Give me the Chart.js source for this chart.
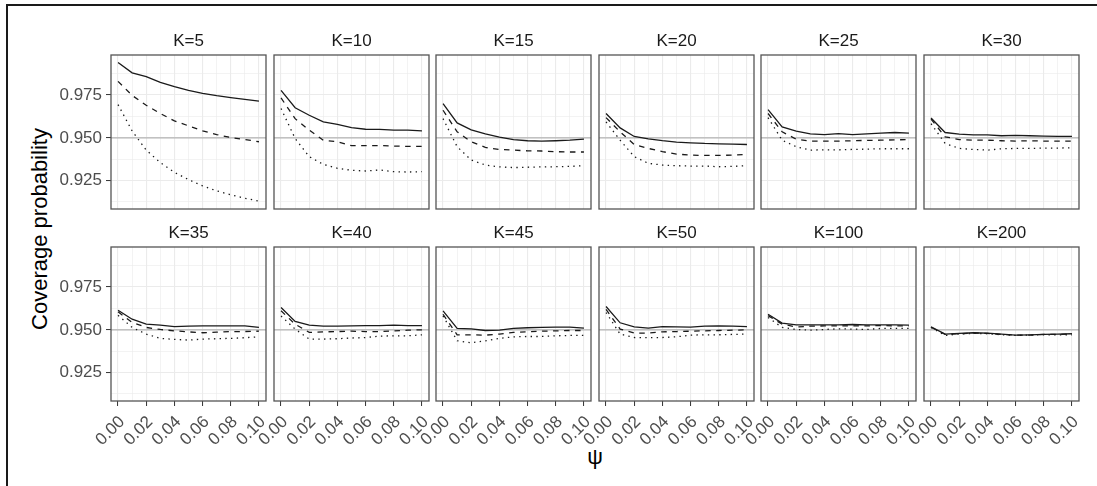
<!DOCTYPE html>
<html>
<head>
<meta charset="utf-8">
<script src="https://cdn.jsdelivr.net/npm/chart.js@4.4.1/dist/chart.umd.min.js"></script>
<style>
  body { margin: 0; background: #fff; width: 1097px; height: 486px; overflow: hidden; position: relative;
         font-family: "Liberation Sans", Arial, sans-serif; }
  #frame { position: absolute; left: 6px; top: 4px; width: 1100px; height: 490px;
           border-top: 2px solid #1a1a1a; border-left: 2px solid #1a1a1a; }
  canvas { position: absolute; }
  .ttl { position: absolute; color: #000; font-size: 22px; line-height: 1; white-space: nowrap; }
  #ylab { left: 40px; top: 229px; transform: translate(-50%, -50%) rotate(-90deg); }
  #xlab { left: 595px; top: 457px; transform: translate(-50%, -50%); }
</style>
</head>
<body>
<div id="frame"></div>
<div class="ttl" id="ylab">Coverage probability</div>
<div class="ttl" id="xlab">ψ</div>
<script>
// psi (x) values shared by every panel
const psi = [0.00, 0.01, 0.02, 0.03, 0.04, 0.05, 0.06, 0.07, 0.08, 0.09, 0.10];
const kLabels = ["K=5", "K=10", "K=15", "K=20", "K=25", "K=30",
                 "K=35", "K=40", "K=45", "K=50", "K=100", "K=200"];

// coverage, one array per panel (solid / dashed / dotted line)
const solidCov = [
  [0.9940, 0.9880, 0.9857, 0.9824, 0.9799, 0.9777, 0.9760, 0.9746, 0.9735, 0.9725, 0.9715],
  [0.9777, 0.9676, 0.9632, 0.9593, 0.9578, 0.9560, 0.9550, 0.9549, 0.9545, 0.9545, 0.9541],
  [0.9700, 0.9587, 0.9547, 0.9523, 0.9504, 0.9490, 0.9483, 0.9481, 0.9483, 0.9486, 0.9492],
  [0.9642, 0.9558, 0.9508, 0.9494, 0.9483, 0.9475, 0.9471, 0.9467, 0.9465, 0.9463, 0.9461],
  [0.9665, 0.9564, 0.9539, 0.9523, 0.9519, 0.9525, 0.9519, 0.9523, 0.9527, 0.9531, 0.9527],
  [0.9616, 0.9531, 0.9521, 0.9517, 0.9517, 0.9512, 0.9514, 0.9512, 0.9510, 0.9508, 0.9508],
  [0.9614, 0.9562, 0.9533, 0.9527, 0.9519, 0.9521, 0.9523, 0.9523, 0.9523, 0.9523, 0.9514],
  [0.9630, 0.9549, 0.9527, 0.9521, 0.9521, 0.9523, 0.9525, 0.9525, 0.9527, 0.9525, 0.9525],
  [0.9611, 0.9508, 0.9506, 0.9496, 0.9498, 0.9508, 0.9512, 0.9514, 0.9516, 0.9516, 0.9510],
  [0.9636, 0.9541, 0.9517, 0.9510, 0.9519, 0.9517, 0.9516, 0.9521, 0.9523, 0.9521, 0.9519],
  [0.9591, 0.9539, 0.9529, 0.9529, 0.9529, 0.9529, 0.9531, 0.9529, 0.9529, 0.9529, 0.9527],
  [0.9517, 0.9475, 0.9479, 0.9483, 0.9481, 0.9475, 0.9469, 0.9471, 0.9473, 0.9475, 0.9477]
];
const dashedCov = [
  [0.9830, 0.9748, 0.9690, 0.9642, 0.9599, 0.9570, 0.9541, 0.9519, 0.9502, 0.9490, 0.9477],
  [0.9733, 0.9612, 0.9545, 0.9486, 0.9477, 0.9454, 0.9454, 0.9455, 0.9452, 0.9450, 0.9450],
  [0.9661, 0.9535, 0.9477, 0.9444, 0.9432, 0.9428, 0.9424, 0.9423, 0.9419, 0.9417, 0.9417],
  [0.9618, 0.9535, 0.9461, 0.9438, 0.9419, 0.9405, 0.9399, 0.9397, 0.9397, 0.9399, 0.9403],
  [0.9642, 0.9535, 0.9492, 0.9481, 0.9481, 0.9481, 0.9483, 0.9485, 0.9486, 0.9488, 0.9490],
  [0.9609, 0.9506, 0.9490, 0.9486, 0.9486, 0.9483, 0.9481, 0.9483, 0.9481, 0.9481, 0.9481],
  [0.9605, 0.9543, 0.9514, 0.9502, 0.9494, 0.9488, 0.9483, 0.9486, 0.9490, 0.9490, 0.9492],
  [0.9611, 0.9533, 0.9485, 0.9488, 0.9490, 0.9492, 0.9490, 0.9490, 0.9494, 0.9498, 0.9500],
  [0.9591, 0.9471, 0.9471, 0.9469, 0.9475, 0.9485, 0.9488, 0.9492, 0.9494, 0.9496, 0.9496],
  [0.9620, 0.9504, 0.9481, 0.9481, 0.9488, 0.9490, 0.9492, 0.9494, 0.9496, 0.9498, 0.9500],
  [0.9583, 0.9533, 0.9517, 0.9521, 0.9523, 0.9523, 0.9523, 0.9523, 0.9525, 0.9523, 0.9523],
  [0.9515, 0.9473, 0.9477, 0.9481, 0.9479, 0.9473, 0.9469, 0.9469, 0.9473, 0.9473, 0.9475]
];
const dottedCov = [
  [0.9694, 0.9540, 0.9428, 0.9355, 0.9298, 0.9256, 0.9219, 0.9190, 0.9167, 0.9147, 0.9130],
  [0.9671, 0.9496, 0.9390, 0.9345, 0.9322, 0.9310, 0.9306, 0.9312, 0.9302, 0.9300, 0.9302],
  [0.9612, 0.9448, 0.9370, 0.9341, 0.9330, 0.9326, 0.9328, 0.9330, 0.9331, 0.9333, 0.9337],
  [0.9593, 0.9486, 0.9390, 0.9351, 0.9341, 0.9337, 0.9335, 0.9335, 0.9331, 0.9333, 0.9337],
  [0.9618, 0.9486, 0.9448, 0.9428, 0.9430, 0.9430, 0.9432, 0.9434, 0.9436, 0.9436, 0.9436],
  [0.9583, 0.9467, 0.9438, 0.9432, 0.9428, 0.9436, 0.9438, 0.9438, 0.9440, 0.9440, 0.9442],
  [0.9585, 0.9514, 0.9475, 0.9450, 0.9444, 0.9440, 0.9446, 0.9448, 0.9450, 0.9454, 0.9459],
  [0.9581, 0.9504, 0.9446, 0.9446, 0.9448, 0.9452, 0.9455, 0.9463, 0.9465, 0.9465, 0.9471],
  [0.9581, 0.9436, 0.9424, 0.9436, 0.9450, 0.9459, 0.9461, 0.9461, 0.9465, 0.9467, 0.9467],
  [0.9601, 0.9475, 0.9455, 0.9454, 0.9455, 0.9459, 0.9469, 0.9471, 0.9471, 0.9473, 0.9475],
  [0.9572, 0.9514, 0.9502, 0.9498, 0.9502, 0.9506, 0.9504, 0.9502, 0.9508, 0.9508, 0.9508],
  [0.9514, 0.9467, 0.9475, 0.9479, 0.9477, 0.9471, 0.9467, 0.9469, 0.9471, 0.9471, 0.9471]
];

// axis breaks (minor ones have an empty label)
const xTicks = [0.00, 0.01, 0.02, 0.03, 0.04, 0.05, 0.06, 0.07, 0.08, 0.09, 0.10];
const xTickLabels = ["0.00", "", "0.02", "", "0.04", "", "0.06", "", "0.08", "", "0.10"];
const yTicks = [0.9125, 0.925, 0.9375, 0.95, 0.9625, 0.975, 0.9875];
const yTickLabels = ["", "0.925", "", "0.950", "", "0.975", ""];
const refLine = 0.95;

Chart.defaults.font.family = '"Liberation Sans", Arial, sans-serif';
Chart.defaults.font.size = 17;

// layout of the 2 x 6 facet grid
const yAxisW = 100, padRight = 16, titleH = 28;
const plotW = 155, plotH = 154;
const rowTops = [55, 247];
const xAxisH = [20, 62];

// grey 0.95 line + panel border
const panelFrame = {
  id: "panelFrame",
  beforeDatasetsDraw(chart) {
    const { ctx, chartArea: a } = chart;
    const py = chart.scales.y.getPixelForValue(refLine);
    ctx.save();
    ctx.strokeStyle = "#B3B3B3";
    ctx.lineWidth = 1.2;
    ctx.beginPath();
    ctx.moveTo(a.left, py);
    ctx.lineTo(a.right, py);
    ctx.stroke();
    ctx.restore();
  },
  afterDraw(chart) {
    const { ctx, chartArea: a } = chart;
    ctx.save();
    ctx.strokeStyle = "#555555";
    ctx.lineWidth = 1.3;
    ctx.strokeRect(a.left, a.top, a.right - a.left, a.bottom - a.top);
    ctx.restore();
  }
};

function line(values, dash) {
  return {
    data: values.map((v, j) => ({ x: psi[j], y: v })),
    borderColor: "#1a1a1a",
    borderWidth: 1.3,
    borderDash: dash,
    pointRadius: 0,
    tension: 0,
    fill: false
  };
}

const tickFont = { size: 17, weight: "normal" };

kLabels.forEach((k, i) => {
  const col = i % 6, row = Math.floor(i / 6);
  const isLeft = col === 0, isBottom = row === 1;
  const panelLeft = Math.round(111.3 + col * 162.48);

  const canvas = document.createElement("canvas");
  canvas.width = yAxisW + plotW + padRight;
  canvas.height = titleH + plotH + xAxisH[row];
  canvas.style.left = (panelLeft - yAxisW) + "px";
  canvas.style.top = (rowTops[row] - titleH) + "px";
  document.body.appendChild(canvas);

  new Chart(canvas, {
    type: "line",
    data: {
      datasets: [
        line(solidCov[i], []),
        line(dashedCov[i], [5.5, 5.5]),
        line(dottedCov[i], [1.4, 4.3])
      ]
    },
    options: {
      responsive: false,
      animation: false,
      devicePixelRatio: 1,
      layout: { padding: { left: 0, right: padRight, top: 0, bottom: 0 } },
      plugins: {
        legend: { display: false },
        tooltip: { enabled: false },
        title: {
          display: true,
          text: k,
          fullSize: false,
          color: "#1A1A1A",
          font: { size: 17, weight: "normal", lineHeight: "20px" },
          padding: { top: 4, bottom: 4 }
        }
      },
      scales: {
        x: {
          type: "linear",
          min: -0.005,
          max: 0.105,
          afterBuildTicks: axis => { axis.ticks = xTicks.map(v => ({ value: v })); },
          afterFit: scale => { scale.height = xAxisH[row]; },
          border: { display: false },
          grid: {
            color: "#EBEBEB",
            lineWidth: ctx => (ctx.index % 2 === 0 ? 1.1 : 0.6),
            drawTicks: isBottom,
            tickLength: 5,
            tickColor: ctx => (ctx.index % 2 === 0 ? "#333333" : "rgba(0,0,0,0)"),
            tickWidth: 1
          },
          ticks: {
            display: isBottom,
            autoSkip: false,
            minRotation: 45,
            maxRotation: 45,
            padding: 6,
            labelOffset: 4,
            color: "#4D4D4D",
            font: tickFont,
            callback: (v, j) => xTickLabels[j]
          }
        },
        y: {
          min: 0.9084,
          max: 0.9984,
          afterBuildTicks: axis => { axis.ticks = yTicks.map(v => ({ value: v })); },
          afterFit: scale => { scale.width = yAxisW; },
          border: { display: false },
          grid: {
            color: "#EBEBEB",
            lineWidth: ctx => (ctx.index % 2 === 1 ? 1.1 : 0.6),
            drawTicks: isLeft,
            tickLength: 5,
            tickColor: ctx => (ctx.index % 2 === 1 ? "#333333" : "rgba(0,0,0,0)"),
            tickWidth: 1
          },
          ticks: {
            display: isLeft,
            autoSkip: false,
            padding: 4,
            color: "#4D4D4D",
            font: tickFont,
            callback: (v, j) => yTickLabels[j]
          }
        }
      }
    },
    plugins: [panelFrame]
  });
});
</script>
</body>
</html>
